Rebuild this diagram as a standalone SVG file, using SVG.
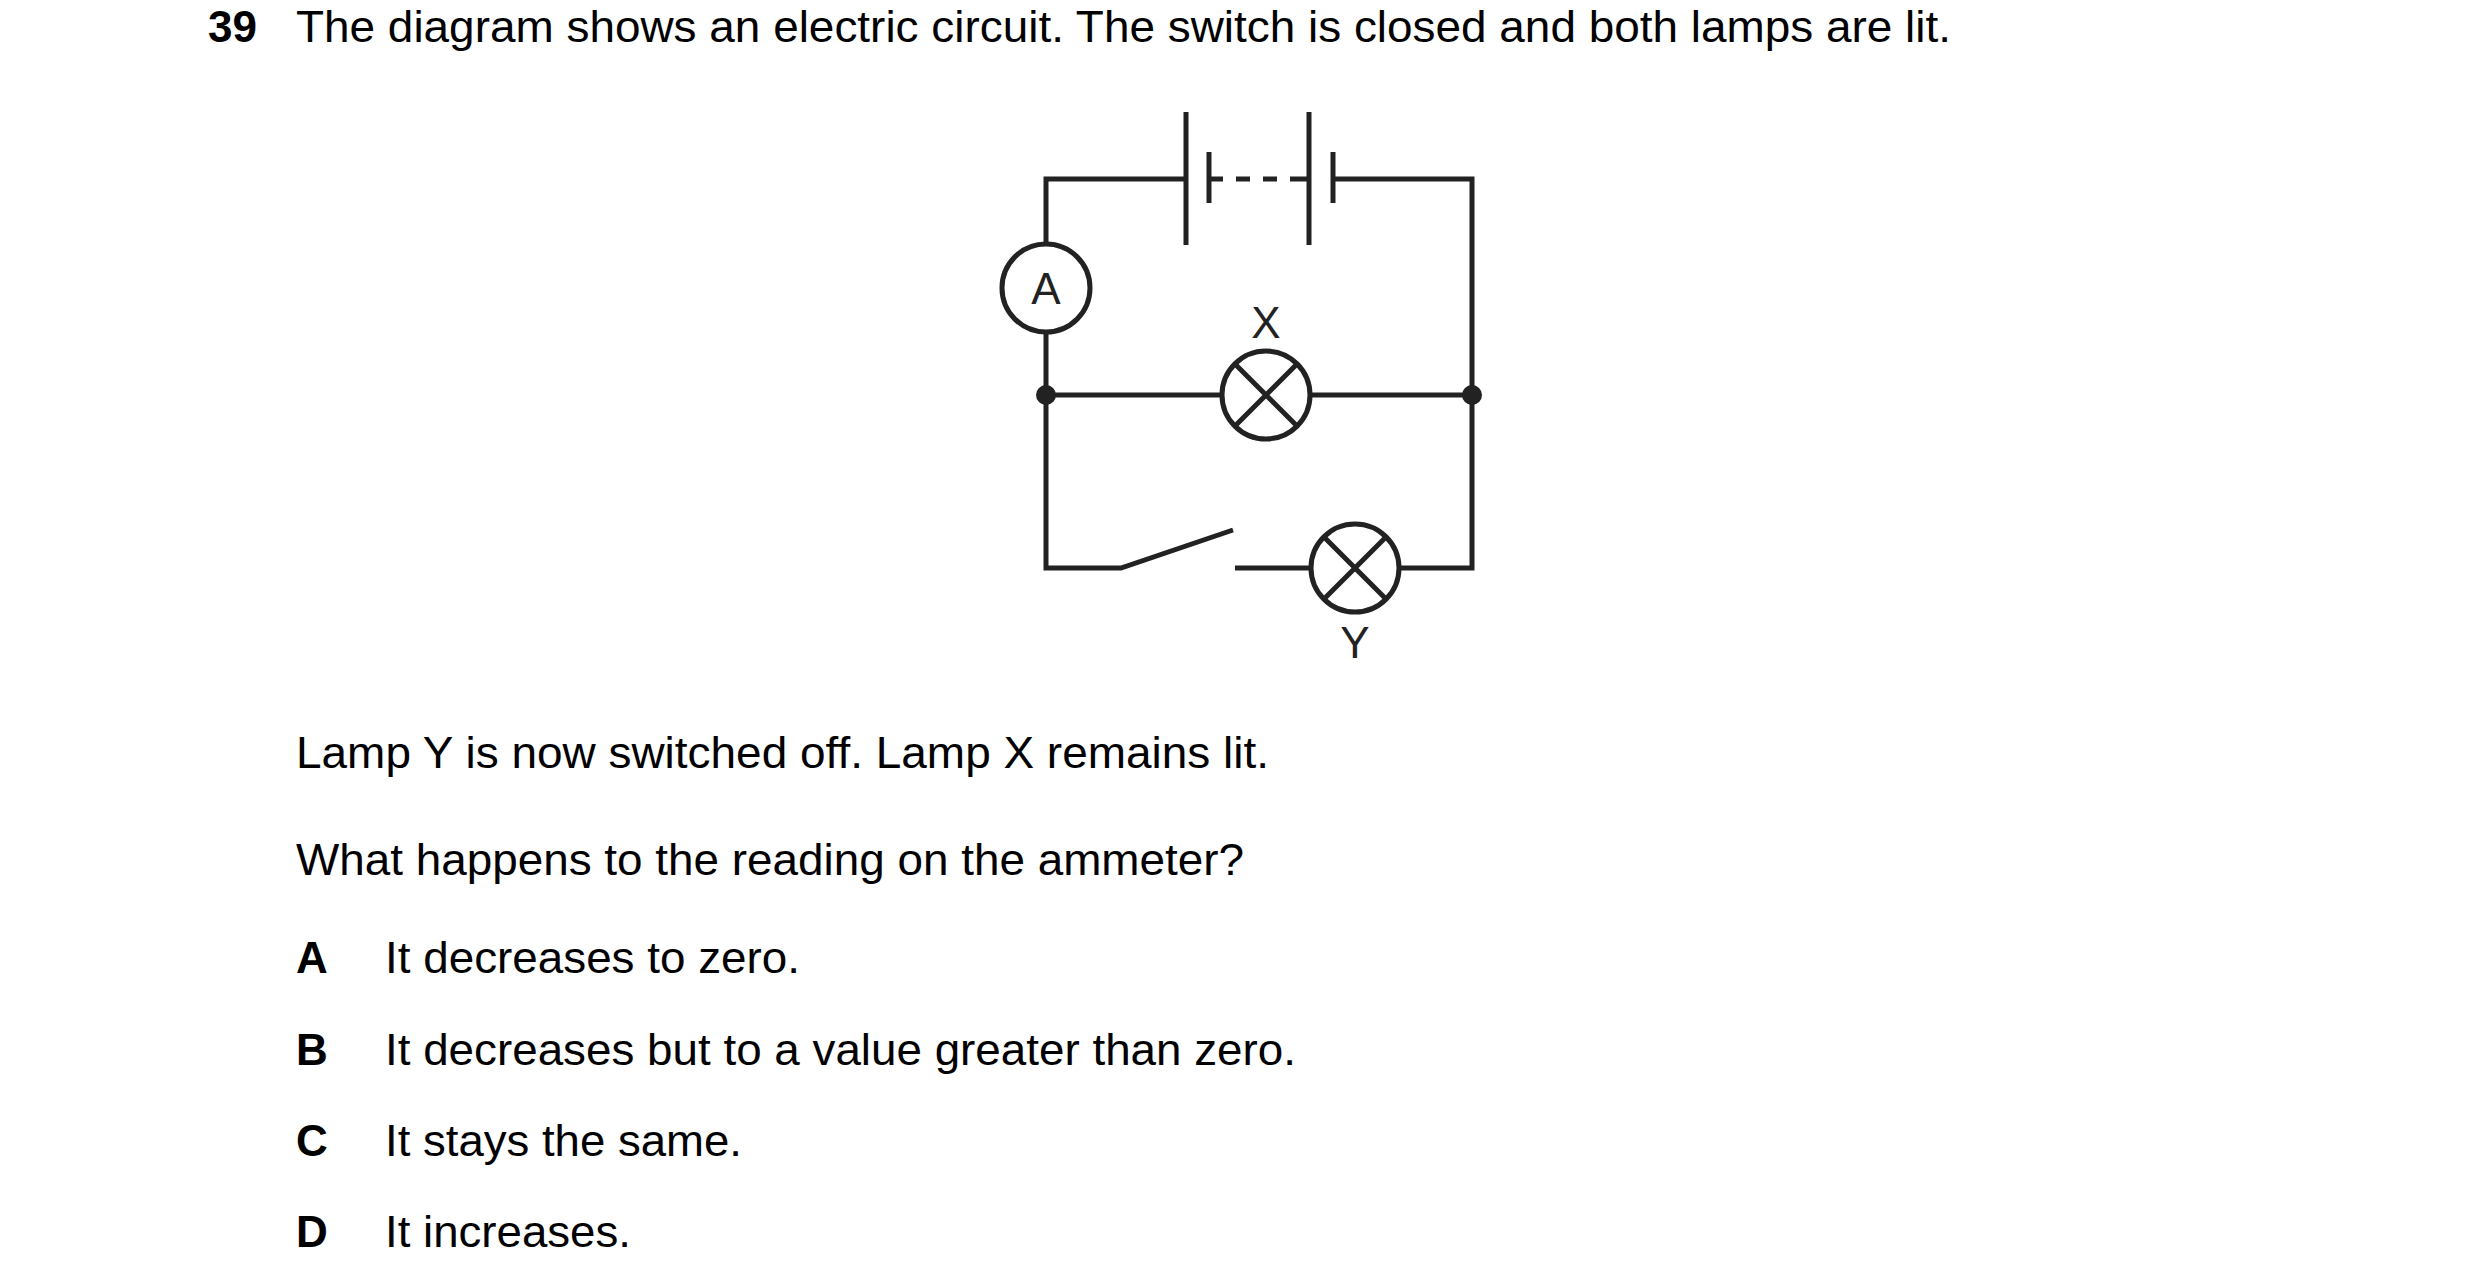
<svg xmlns="http://www.w3.org/2000/svg" width="2480" height="1281" viewBox="0 0 2480 1281">
<style>
.t{font-family:"Liberation Sans",Arial,sans-serif;font-size:44px;fill:#000}
.b{font-weight:bold}
.w{stroke:#222;stroke-width:5;fill:none}
.c{stroke:#222;stroke-width:5;fill:#fff}
.l{font-family:"Liberation Sans",Arial,sans-serif;font-size:44px;fill:#222;text-anchor:middle}
</style>
<rect width="2480" height="1281" fill="#fff"/>
<text class="t b" x="208" y="42">39</text>
<text class="t" x="296" y="42" textLength="1655" lengthAdjust="spacingAndGlyphs">The diagram shows an electric circuit. The switch is closed and both lamps are lit.</text>
<g id="connectors">
<path class="w" d="M1186 179H1046V244M1046 332V568H1121L1233 530M1235 568H1311M1399 568H1472V179H1333M1222 395H1046M1310 395H1472"/>
<path class="w" d="M1209 179H1223M1236 179H1250M1263 179H1277M1290 179H1309"/>
</g>
<g id="battery">
<line class="w" x1="1186" y1="112" x2="1186" y2="245"/>
<line class="w" x1="1209" y1="152" x2="1209" y2="203"/>
<line class="w" x1="1309" y1="112" x2="1309" y2="245"/>
<line class="w" x1="1333" y1="152" x2="1333" y2="203"/>
</g>
<g id="ammeter">
<circle class="c" cx="1046" cy="288" r="44"/>
<text class="l" x="1046" y="304">A</text>
</g>
<g id="lampX">
<circle class="c" cx="1266" cy="395" r="44"/>
<path class="w" d="M1235 364L1297 426M1297 364L1235 426"/>
<text class="l" x="1266" y="338">X</text>
</g>
<g id="lampY">
<circle class="c" cx="1355" cy="568" r="44"/>
<path class="w" d="M1324 537L1386 599M1386 537L1324 599"/>
<text class="l" x="1355" y="658">Y</text>
</g>
<g id="junctions">
<circle cx="1046" cy="395" r="10" fill="#222"/>
<circle cx="1472" cy="395" r="10" fill="#222"/>
</g>
<text class="t" x="296" y="768" textLength="973" lengthAdjust="spacingAndGlyphs">Lamp Y is now switched off. Lamp X remains lit.</text>
<text class="t" x="296" y="875" textLength="948" lengthAdjust="spacingAndGlyphs">What happens to the reading on the ammeter?</text>
<text class="t b" x="296" y="973">A</text><text class="t" x="385" y="973" textLength="415" lengthAdjust="spacingAndGlyphs">It decreases to zero.</text>
<text class="t b" x="296" y="1065">B</text><text class="t" x="385" y="1065" textLength="911" lengthAdjust="spacingAndGlyphs">It decreases but to a value greater than zero.</text>
<text class="t b" x="296" y="1156">C</text><text class="t" x="385" y="1156" textLength="357" lengthAdjust="spacingAndGlyphs">It stays the same.</text>
<text class="t b" x="296" y="1247">D</text><text class="t" x="385" y="1247" textLength="246" lengthAdjust="spacingAndGlyphs">It increases.</text>
</svg>
